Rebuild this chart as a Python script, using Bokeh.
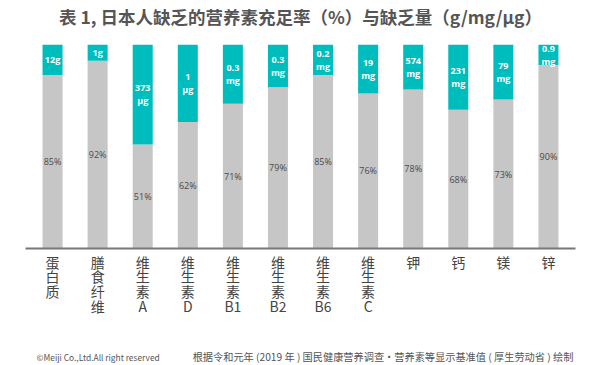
from bokeh.plotting import figure
from bokeh.models import ColumnDataSource, FixedTicker, Range1d
from bokeh.layouts import column
from bokeh.core.properties import value
from bokeh.embed import file_html
from bokeh.resources import INLINE

# ---- data ----
nutrients = ["蛋\n白\n质", "膳\n食\n纤\n维", "维\n生\n素\nA", "维\n生\n素\nD", "维\n生\n素\nB1",
             "维\n生\n素\nB2", "维\n生\n素\nB6", "维\n生\n素\nC", "钾", "钙", "镁", "锌"]
sufficiency = [85, 92, 51, 62, 71, 79, 85, 76, 78, 68, 73, 90]
shortage = ["12g", "1g", "373\nμg", "1\nμg", "0.3\nmg", "0.3\nmg", "0.2\nmg", "19\nmg",
            "574\nmg", "231\nmg", "79\nmg", "0.9\nmg"]
total = 100
title_text = "表 1, 日本人缺乏的营养素充足率（%）与缺乏量（g/mg/μg）"
footer_left = "©Meiji Co.,Ltd.All right reserved"
footer_right = "根据令和元年 (2019 年 ) 国民健康营养调查・营养素等显示基准值 ( 厚生劳动省 ) 绘制"

TEAL = "#00bdbd"
GRAY = "#c6c6c6"
TXT = "#555555"
CJK = "Noto Sans CJK SC"
W = 600


def text_strip(height, items):
    f = figure(width=W, height=height, output_backend="svg", toolbar_location=None,
               x_range=Range1d(0, W), y_range=Range1d(height, 0),
               min_border=0, min_border_left=0, min_border_right=0,
               min_border_top=0, min_border_bottom=0)
    f.axis.visible = False
    f.grid.visible = False
    f.outline_line_color = None
    for x, y, txt, align, size, style in items:
        f.text(x=[x], y=[y], text=[txt], text_align=align, text_baseline="middle",
               text_font=value(CJK), text_font_size=size, text_font_style=style,
               text_color=TXT)
    return f


HEAD_H = 32
FOOT_H = 33
MAIN_H = 365 - HEAD_H - FOOT_H

header = text_strip(HEAD_H, [(W / 2, 16, title_text, "center", "17.5px", "bold")])
footer = text_strip(FOOT_H, [(12, 24, footer_left, "left", "8.4px", "normal"),
                             (390, 24, footer_right, "center", "10.2px", "normal")])

xs = list(range(len(nutrients)))
src = ColumnDataSource(dict(
    x=xs,
    suff=sufficiency,
    top=[total] * len(xs),
    suff_mid=[s / 2 for s in sufficiency],
    short_mid=[(s + total) / 2 for s in sufficiency],
    suff_lbl=[f"{s}%" for s in sufficiency],
    short_lbl=shortage,
))

frame_top = 44 - HEAD_H
frame_bottom = 248 - HEAD_H
p = figure(width=W, height=MAIN_H, output_backend="svg", toolbar_location=None,
           x_range=Range1d(-0.6, len(xs) - 0.4), y_range=Range1d(0, total),
           min_border_left=25, min_border_right=25, min_border_top=frame_top,
           min_border_bottom=MAIN_H - frame_bottom)
p.outline_line_color = None
p.grid.visible = False
p.yaxis.visible = False

bw = 0.444
p.vbar(x="x", bottom=0, top="suff", width=bw, source=src, fill_color=GRAY, line_color=None)
p.vbar(x="x", bottom="suff", top="top", width=bw, source=src, fill_color=TEAL, line_color=None)

p.text(x="x", y="suff_mid", text="suff_lbl", source=src, text_align="center",
       text_baseline="middle", text_font_size="9px", text_color="#4a4a4a",
       text_font=value("Open Sans"))
p.text(x="x", y="short_mid", text="short_lbl", source=src, text_align="center",
       text_baseline="middle", text_font_size="9px", text_color="white",
       text_font_style="bold", text_font=value("Open Sans"), text_line_height=1.0)

ax = p.xaxis[0]
ax.ticker = FixedTicker(ticks=xs)
ax.major_label_overrides = {i: n for i, n in enumerate(nutrients)}
ax.major_tick_line_color = None
ax.minor_tick_line_color = None
ax.axis_line_color = "#777777"
ax.axis_line_width = 2
ax.major_label_text_font = CJK
ax.major_label_text_font_size = "14px"
ax.major_label_text_color = "#444444"
ax.major_label_text_line_height = 0.74
ax.major_label_standoff = -3

layout = column(header, p, footer, spacing=0)
open("out.html", "w").write(file_html(layout, INLINE))
